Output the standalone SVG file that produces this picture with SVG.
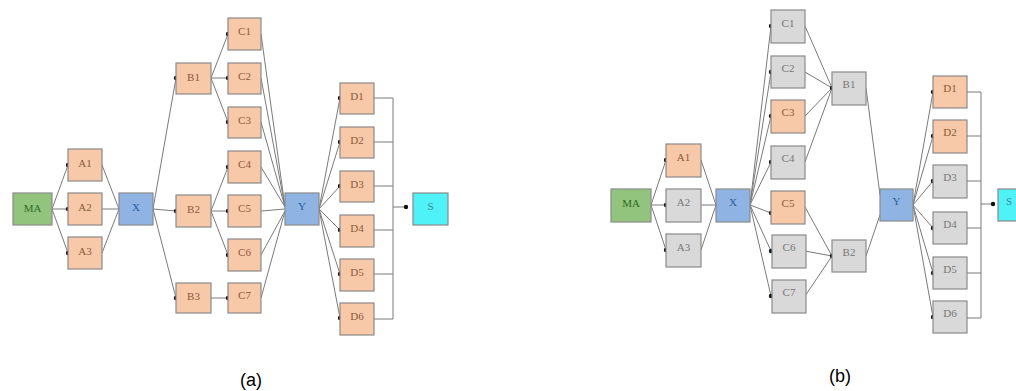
<svg xmlns="http://www.w3.org/2000/svg" width="1016" height="391" viewBox="0 0 1016 391">
<style>
.n rect{stroke:#8a8a8a;stroke-width:1.2}
.o rect{fill:#f8c9a8}
.g rect{fill:#d9d9d9}
.m rect{fill:#93c47d}
.b rect{fill:#8fb4e3}
.s rect{fill:#4ff2f6}
.n text{font-family:"Liberation Serif",serif;font-size:11px;text-anchor:middle}
.o text{fill:#8a5a3a}
.g text{fill:#777}
.m text{fill:#2f6a1f}
.b text{fill:#2a5a9a}
.s text{fill:#3a8a9a}
.c path{fill:none;stroke:#7a7a7a;stroke-width:1}
.c .d{marker-end:url(#dot)}
.cap{font-family:"Liberation Sans",Arial,sans-serif;font-size:18px;fill:#000;text-anchor:middle}
</style>
<defs>
<marker id="dot" viewBox="0 0 6 6" refX="3" refY="3" markerWidth="6" markerHeight="6" markerUnits="userSpaceOnUse">
<circle cx="3" cy="3" r="2.2" fill="#111"/>
</marker>
</defs>

<g id="connectors-a" class="c">
<path class="d" d="M52,209 L68,165"/>
<path class="d" d="M52,209 L68,209"/>
<path class="d" d="M52,209 L68,253"/>
<path d="M102,165 L119,209"/>
<path d="M102,209 L119,209"/>
<path d="M102,253 L119,209"/>
<path class="d" d="M153,209 L176,78"/>
<path class="d" d="M153,209 L176,211"/>
<path class="d" d="M153,209 L176,298"/>
<path class="d" d="M211,78 L228,34"/>
<path class="d" d="M211,78 L228,78"/>
<path class="d" d="M211,78 L228,122"/>
<path class="d" d="M211,211 L228,167"/>
<path class="d" d="M211,211 L228,211"/>
<path class="d" d="M211,211 L228,255"/>
<path class="d" d="M211,298 L228,298"/>
<path d="M261,34 L285,207"/>
<path d="M261,78 L285,207"/>
<path d="M261,122 L285,207"/>
<path d="M261,167 L285,207"/>
<path d="M261,211 L285,209"/>
<path d="M261,255 L285,211"/>
<path d="M261,298 L285,211"/>
<path class="d" d="M319,209 L340,98"/>
<path class="d" d="M319,209 L340,142"/>
<path class="d" d="M319,209 L340,186"/>
<path class="d" d="M319,209 L340,230"/>
<path class="d" d="M319,209 L340,274"/>
<path class="d" d="M319,209 L340,318"/>
<path d="M374,98 H393 V319 H374 M374,142 H393 M374,186 H393 M374,230 H393 M374,274 H393"/>
<path class="d" d="M393,207 L406,207"/>
</g>

<g id="connectors-b" class="c">
<path class="d" d="M651,205 L666,160"/>
<path class="d" d="M651,205 L666,205"/>
<path class="d" d="M651,205 L666,250"/>
<path d="M701,160 L716,205"/>
<path d="M701,205 L716,205"/>
<path d="M701,250 L716,205"/>
<path class="d" d="M750,205 L771,26"/>
<path class="d" d="M750,205 L771,72"/>
<path class="d" d="M750,205 L771,116"/>
<path class="d" d="M750,205 L771,162"/>
<path class="d" d="M750,205 L771,213"/>
<path class="d" d="M750,205 L771,251"/>
<path class="d" d="M750,205 L771,296"/>
<path d="M805,26 L832,88"/>
<path d="M805,72 L832,88"/>
<path d="M805,116 L832,88"/>
<path class="d" d="M805,162 L832,88"/>
<path d="M805,207 L832,256"/>
<path d="M805,251 L832,256"/>
<path class="d" d="M805,296 L832,256"/>
<path d="M866,88 L880,195"/>
<path d="M866,256 L880,215"/>
<path class="d" d="M913,205 L933,92"/>
<path class="d" d="M913,205 L933,136"/>
<path class="d" d="M913,205 L933,181"/>
<path class="d" d="M913,205 L933,228"/>
<path class="d" d="M913,205 L933,273"/>
<path class="d" d="M913,205 L933,317"/>
<path d="M967,92 H981 V318 H967 M967,136 H981 M967,181 H981 M967,228 H981 M967,273 H981"/>
<path class="d" d="M981,204 L993,204"/>
</g>

<g id="a-MA" class="n m"><rect x="13" y="193" width="39" height="32"/><text x="32.5" y="212">MA</text></g>
<g id="a-A1" class="n o"><rect x="68" y="149" width="34" height="32"/><text x="85" y="167">A1</text></g>
<g id="a-A2" class="n o"><rect x="68" y="193" width="34" height="32"/><text x="85" y="211">A2</text></g>
<g id="a-A3" class="n o"><rect x="68" y="237" width="34" height="32"/><text x="85" y="255">A3</text></g>
<g id="a-X" class="n b"><rect x="119" y="193" width="34" height="32"/><text x="136" y="211">X</text></g>
<g id="a-B1" class="n o"><rect x="176" y="63" width="35" height="31"/><text x="193.5" y="81">B1</text></g>
<g id="a-B2" class="n o"><rect x="176" y="195" width="35" height="32"/><text x="193.5" y="213">B2</text></g>
<g id="a-B3" class="n o"><rect x="176" y="283" width="35" height="30"/><text x="193.5" y="300">B3</text></g>
<g id="a-C1" class="n o"><rect x="228" y="18" width="33" height="32"/><text x="244.5" y="35">C1</text></g>
<g id="a-C2" class="n o"><rect x="228" y="63" width="33" height="31"/><text x="244.5" y="80">C2</text></g>
<g id="a-C3" class="n o"><rect x="228" y="107" width="33" height="31"/><text x="244.5" y="124">C3</text></g>
<g id="a-C4" class="n o"><rect x="228" y="151" width="33" height="32"/><text x="244.5" y="168">C4</text></g>
<g id="a-C5" class="n o"><rect x="228" y="195" width="33" height="32"/><text x="244.5" y="212">C5</text></g>
<g id="a-C6" class="n o"><rect x="228" y="239" width="33" height="32"/><text x="244.5" y="256">C6</text></g>
<g id="a-C7" class="n o"><rect x="228" y="283" width="33" height="30"/><text x="244.5" y="299">C7</text></g>
<g id="a-Y" class="n b"><rect x="285" y="193" width="34" height="32"/><text x="302" y="210">Y</text></g>
<g id="a-D1" class="n o"><rect x="340" y="83" width="34" height="31"/><text x="357" y="100">D1</text></g>
<g id="a-D2" class="n o"><rect x="340" y="127" width="34" height="31"/><text x="357" y="144">D2</text></g>
<g id="a-D3" class="n o"><rect x="340" y="171" width="34" height="31"/><text x="357" y="188">D3</text></g>
<g id="a-D4" class="n o"><rect x="340" y="215" width="34" height="32"/><text x="357" y="232">D4</text></g>
<g id="a-D5" class="n o"><rect x="340" y="259" width="34" height="32"/><text x="357" y="276">D5</text></g>
<g id="a-D6" class="n o"><rect x="340" y="303" width="34" height="32"/><text x="357" y="320">D6</text></g>
<g id="a-S" class="n s"><rect x="413" y="193" width="35" height="32"/><text x="430.5" y="210">S</text></g>

<g id="b-MA" class="n m"><rect x="611" y="189" width="40" height="33"/><text x="631" y="207">MA</text></g>
<g id="b-A1" class="n o"><rect x="666" y="144" width="35" height="33"/><text x="683.5" y="161">A1</text></g>
<g id="b-A2" class="n g"><rect x="666" y="189" width="35" height="33"/><text x="683.5" y="206">A2</text></g>
<g id="b-A3" class="n g"><rect x="666" y="234" width="35" height="33"/><text x="683.5" y="251">A3</text></g>
<g id="b-X" class="n b"><rect x="716" y="189" width="34" height="33"/><text x="733" y="206">X</text></g>
<g id="b-C1" class="n g"><rect x="771" y="10" width="34" height="33"/><text x="788" y="27">C1</text></g>
<g id="b-C2" class="n g"><rect x="771" y="56" width="34" height="32"/><text x="788" y="72">C2</text></g>
<g id="b-C3" class="n o"><rect x="771" y="100" width="34" height="33"/><text x="788" y="116">C3</text></g>
<g id="b-C4" class="n g"><rect x="771" y="146" width="34" height="33"/><text x="788" y="162">C4</text></g>
<g id="b-C5" class="n o"><rect x="771" y="191" width="34" height="33"/><text x="788" y="207">C5</text></g>
<g id="b-C6" class="n g"><rect x="772" y="235" width="34" height="33"/><text x="789" y="251">C6</text></g>
<g id="b-C7" class="n g"><rect x="772" y="280" width="34" height="33"/><text x="789" y="296">C7</text></g>
<g id="b-B1" class="n g"><rect x="832" y="72" width="34" height="33"/><text x="849" y="88">B1</text></g>
<g id="b-B2" class="n g"><rect x="832" y="240" width="34" height="32"/><text x="849" y="256">B2</text></g>
<g id="b-Y" class="n b"><rect x="880" y="189" width="33" height="32"/><text x="896.5" y="205">Y</text></g>
<g id="b-D1" class="n o"><rect x="933" y="76" width="34" height="32"/><text x="950" y="92">D1</text></g>
<g id="b-D2" class="n o"><rect x="933" y="120" width="34" height="33"/><text x="950" y="136">D2</text></g>
<g id="b-D3" class="n g"><rect x="933" y="165" width="34" height="33"/><text x="950" y="181">D3</text></g>
<g id="b-D4" class="n g"><rect x="933" y="212" width="34" height="32"/><text x="950" y="228">D4</text></g>
<g id="b-D5" class="n g"><rect x="933" y="257" width="34" height="32"/><text x="950" y="273">D5</text></g>
<g id="b-D6" class="n g"><rect x="933" y="301" width="34" height="32"/><text x="950" y="317">D6</text></g>
<g id="b-S" class="n s"><rect x="998" y="189" width="35" height="32"/><text x="1009" y="205">S</text></g>

<text class="cap" x="251" y="386">(a)</text>
<text class="cap" x="840" y="382">(b)</text>
</svg>
